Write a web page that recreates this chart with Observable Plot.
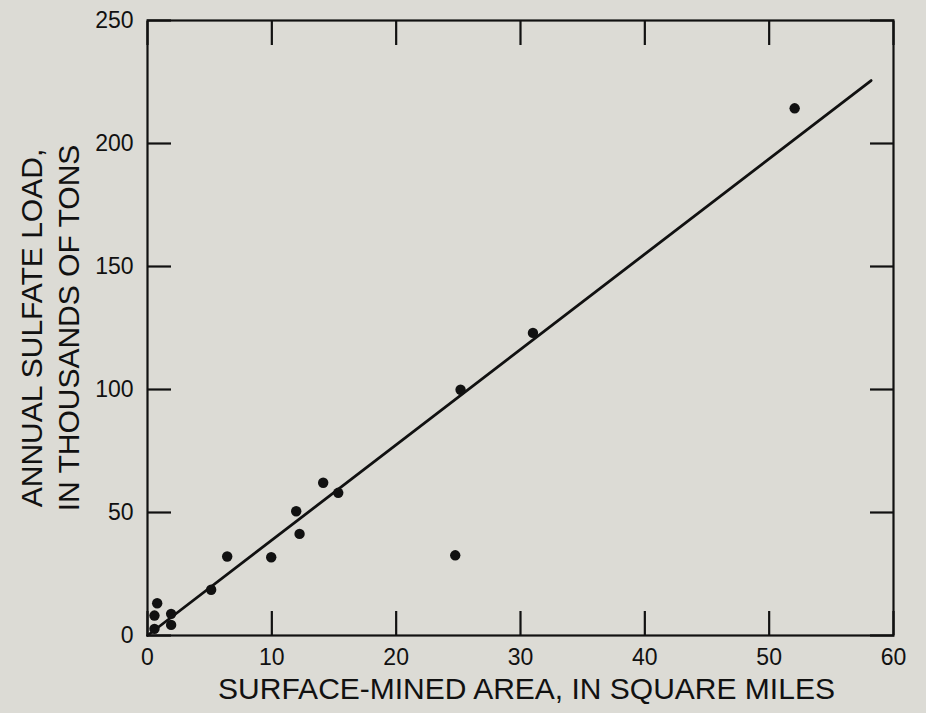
<!DOCTYPE html>
<html>
<head>
<meta charset="utf-8">
<script src="https://cdn.jsdelivr.net/npm/d3@7"></script>
<script src="https://cdn.jsdelivr.net/npm/@observablehq/plot@0.6"></script>
<style>
  html, body { margin: 0; padding: 0; background: #dcdbd5; }
  #chart svg { display: block; }
</style>
</head>
<body>
<div id="chart"></div>
<script>
// Surface-mined area (square miles) vs annual sulfate load (thousands of tons)
const minedArea = [0.56, 0.56, 0.78, 1.9, 1.9, 5.12, 6.41, 9.95, 11.96, 12.23, 14.13, 15.34, 24.75, 25.18, 31.0, 52.05];
const sulfateLoad = [2.7, 8.1, 13.1, 4.3, 8.8, 18.6, 32.1, 31.8, 50.5, 41.3, 62.1, 58.0, 32.6, 99.9, 123.0, 214.3];

// Fitted line end points
const fitX = [0, 58.2];
const fitY = [0, 225.6];

const xTicks = [0, 10, 20, 30, 40, 50, 60];
const yTicks = [0, 50, 100, 150, 200, 250];

const xLabel = "SURFACE-MINED AREA, IN SQUARE MILES";
const yLabel1 = "ANNUAL SULFATE LOAD,";
const yLabel2 = "IN THOUSANDS OF TONS";

const points = minedArea.map((x, i) => ({x, y: sulfateLoad[i]}));
const fit = fitX.map((x, i) => ({x, y: fitY[i]}));

const ink = "#111111";
const TICK = 24;

const chart = Plot.plot({
  width: 926,
  height: 713,
  marginLeft: 147,
  marginRight: 33,
  marginTop: 20,
  marginBottom: 78,
  style: {background: "#dcdbd5", fontFamily: "'Liberation Sans', Arial, Helvetica, sans-serif", color: ink},
  x: {domain: [0, 60]},
  y: {domain: [0, 250]},
  marks: [
    Plot.frame({stroke: ink, strokeWidth: 2.2}),
    Plot.axisX(xTicks, {anchor: "bottom", tickSize: -TICK, tickPadding: TICK + 13, strokeWidth: 2.2, stroke: ink, fill: ink, fontSize: 23, label: null}),
    Plot.axisX(xTicks, {anchor: "top", tickSize: -TICK, strokeWidth: 2.2, stroke: ink, tickFormat: () => "", label: null}),
    Plot.axisY(yTicks, {anchor: "left", tickSize: -TICK, tickPadding: TICK + 14, strokeWidth: 2.2, stroke: ink, fill: ink, fontSize: 23, label: null}),
    Plot.axisY(yTicks, {anchor: "right", tickSize: -TICK, strokeWidth: 2.2, stroke: ink, tickFormat: () => "", label: null}),
    Plot.line(fit, {x: "x", y: "y", stroke: ink, strokeWidth: 2.8}),
    Plot.dot(points, {x: "x", y: "y", r: 5.2, fill: ink, stroke: "none"}),
    Plot.text([xLabel], {text: d => d, frameAnchor: "bottom", textAnchor: "middle", dy: 63, dx: 6, fontSize: 30, fill: ink}),
    Plot.text([yLabel1], {text: d => d, frameAnchor: "left", textAnchor: "middle", rotate: -90, dx: -115, fontSize: 30, fill: ink}),
    Plot.text([yLabel2], {text: d => d, frameAnchor: "left", textAnchor: "middle", rotate: -90, dx: -78, fontSize: 30, fill: ink})
  ]
});
document.getElementById("chart").appendChild(chart);
</script>
</body>
</html>
